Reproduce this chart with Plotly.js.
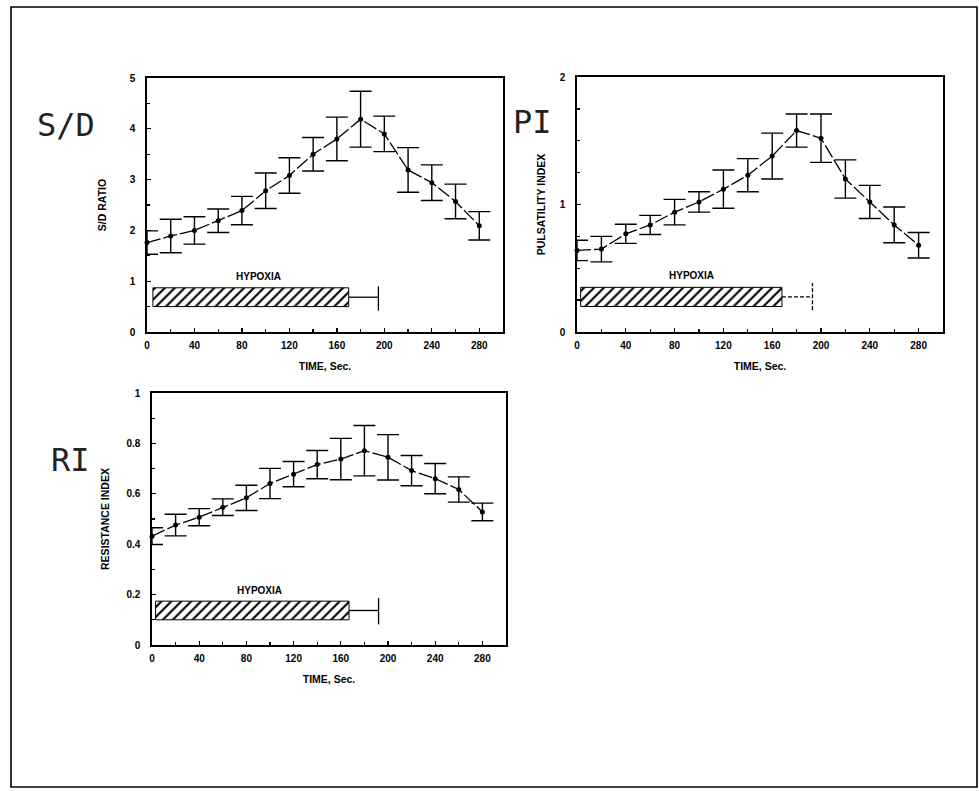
<!DOCTYPE html>
<html>
<head>
<meta charset="utf-8">
<script src="https://cdn.plot.ly/plotly-3.0.1.min.js"></script>
<style>html,body{margin:0;padding:0;background:#fff;}#chart{width:979px;height:791px;}</style>
</head>
<body>
<div id="chart"></div>
<script>
// ---- data ----
const time = [0, 20, 40, 60, 80, 100, 120, 140, 160, 180, 200, 220, 240, 260, 280];
const sdMean = [1.76, 1.89, 2.0, 2.19, 2.39, 2.78, 3.08, 3.5, 3.8, 4.19, 3.9, 3.19, 2.94, 2.57, 2.09];
const sdErr  = [0.23, 0.33, 0.27, 0.23, 0.28, 0.35, 0.35, 0.33, 0.43, 0.55, 0.35, 0.44, 0.35, 0.34, 0.28];
const piMean = [0.64, 0.65, 0.77, 0.84, 0.94, 1.02, 1.12, 1.23, 1.38, 1.58, 1.52, 1.2, 1.02, 0.84, 0.68];
const piErr  = [0.08, 0.10, 0.075, 0.075, 0.10, 0.08, 0.15, 0.13, 0.18, 0.13, 0.19, 0.15, 0.13, 0.14, 0.10];
const riMean = [0.432, 0.476, 0.507, 0.547, 0.584, 0.641, 0.678, 0.716, 0.738, 0.771, 0.745, 0.692, 0.66, 0.617, 0.528];
const riErr  = [0.033, 0.043, 0.034, 0.033, 0.05, 0.06, 0.05, 0.056, 0.082, 0.10, 0.09, 0.06, 0.06, 0.05, 0.035];

const panelNames = ["S/D", "PI", "RI"];
const yTitles = ["S/D RATIO", "PULSATILITY INDEX", "RESISTANCE INDEX"];
const xTitle = "TIME, Sec.";
const hypoxiaText = "HYPOXIA";

// hypoxia period bar + recovery marker, one value per panel
const hypoxiaStart = [5, 3, 3];
const hypoxiaEnd = [170, 168, 167];
const hypoxiaLow = [0.50, 0.20, 0.100];
const hypoxiaHigh = [0.87, 0.35, 0.174];
const recoveryEnd = [195, 193, 192];
const recoveryTickLow = [0.42, 0.17, 0.082];
const recoveryTickHigh = [0.90, 0.385, 0.187];
const hypoxiaLabelX = [94, 94, 91];
const hypoxiaLabelY = [1.09, 0.44, 0.218];

// ---- build ----
const means = [sdMean, piMean, riMean];
const errs = [sdErr, piErr, riErr];
const axSuffix = ["", "2", "3"];
const traces = [];
for (let i = 0; i < 3; i++) {
  const xa = "x" + axSuffix[i], ya = "y" + axSuffix[i];
  traces.push({
    type: "bar", orientation: "h", xaxis: xa, yaxis: ya,
    y: [(hypoxiaLow[i] + hypoxiaHigh[i]) / 2],
    x: [hypoxiaEnd[i] - hypoxiaStart[i]],
    base: [hypoxiaStart[i]],
    width: [hypoxiaHigh[i] - hypoxiaLow[i]],
    marker: { color: "#fff", line: { color: "#000", width: 1 },
      pattern: { shape: "/", fgcolor: "#000", bgcolor: "#fff", size: 7, solidity: 0.3 } },
    hoverinfo: "skip"
  });
  const mid = (hypoxiaLow[i] + hypoxiaHigh[i]) / 2;
  traces.push({
    type: "scatter", mode: "lines", xaxis: xa, yaxis: ya,
    x: [hypoxiaEnd[i], recoveryEnd[i], null, recoveryEnd[i], recoveryEnd[i]],
    y: [mid, mid, null, recoveryTickLow[i], recoveryTickHigh[i]],
    line: { color: "#000", width: 1.3, dash: i === 1 ? "4px,2px" : "solid" },
    cliponaxis: false, hoverinfo: "skip"
  });
  traces.push({
    type: "scatter", mode: "lines+markers", xaxis: xa, yaxis: ya,
    x: time, y: means[i],
    error_y: { type: "data", array: errs[i], visible: true, color: "#000", thickness: 1.4, width: 11 },
    line: { color: "#000", width: 1.3, dash: "14px,3px" },
    marker: { color: "#000", size: 5 },
    cliponaxis: false, name: panelNames[i]
  });
}

const tickFont = { family: "Liberation Sans, Arial, sans-serif", size: 10, color: "#000", weight: "bold" };
const titleFont = { family: "Liberation Sans, Arial, sans-serif", size: 10.5, color: "#000", weight: "bold" };
function xAxis(domain, anchor) {
  return {
    domain: domain, anchor: anchor, range: [0, 300], tickvals: [0, 40, 80, 120, 160, 200, 240, 280],
    ticks: "inside", ticklen: 4, tickwidth: 1.3, tickcolor: "#000",
    minor: { tickvals: [20, 60, 100, 140, 180, 220, 260], ticks: "inside", ticklen: 3, tickcolor: "#000" },
    showline: true, mirror: true, linecolor: "#000", linewidth: 1.6, showgrid: false, zeroline: false,
    tickfont: tickFont, ticklabelstandoff: 3,
    title: { text: xTitle, font: titleFont, standoff: 13 }, fixedrange: true
  };
}
function yAxis(domain, anchor, range, dtick, minorDtick, title, standoff) {
  return {
    domain: domain, anchor: anchor, range: range, dtick: dtick,
    ticks: "inside", ticklen: 4, tickwidth: 1.3, tickcolor: "#000",
    minor: { dtick: minorDtick, ticks: "inside", ticklen: 3, tickcolor: "#000" },
    showline: true, mirror: true, linecolor: "#000", linewidth: 1.6, showgrid: false, zeroline: false,
    tickfont: tickFont, ticklabelstandoff: 8,
    title: { text: title, font: titleFont, standoff: standoff }, fixedrange: true
  };
}

const annotations = [];
for (let i = 0; i < 3; i++) {
  annotations.push({
    xref: "x" + axSuffix[i], yref: "y" + axSuffix[i], x: hypoxiaLabelX[i], y: hypoxiaLabelY[i],
    text: hypoxiaText, showarrow: false, font: { family: "Liberation Sans, Arial, sans-serif", size: 10, color: "#000", weight: "bold" }
  });
}
const labelPos = [[66 / 979, 1 - 125 / 791], [532 / 979, 1 - 122 / 791], [70 / 979, 1 - 460 / 791]];
for (let i = 0; i < 3; i++) {
  annotations.push({
    xref: "paper", yref: "paper", x: labelPos[i][0], y: labelPos[i][1], xanchor: "center", yanchor: "middle",
    text: panelNames[i], showarrow: false,
    font: { family: "DejaVu Sans Mono, monospace", size: 32, color: "#222" }
  });
}

const layout = {
  width: 979, height: 791, margin: { l: 0, r: 0, t: 0, b: 0 },
  paper_bgcolor: "#fff", plot_bgcolor: "#fff", showlegend: false,
  xaxis: xAxis([147 / 979, 503 / 979], "y"),
  yaxis: yAxis([1 - 332 / 791, 1 - 78 / 791], "x", [0, 5], 1, 0.5, yTitles[0], 21),
  xaxis2: xAxis([577 / 979, 943 / 979], "y2"),
  yaxis2: yAxis([1 - 332 / 791, 1 - 77 / 791], "x2", [0, 2], 1, 0.25, yTitles[1], 12),
  xaxis3: xAxis([152 / 979, 506 / 979], "y3"),
  yaxis3: yAxis([1 - 645 / 791, 1 - 393 / 791], "x3", [0, 1], 0.2, 0.1, yTitles[2], 15),
  annotations: annotations,
  shapes: [{ type: "rect", xref: "paper", yref: "paper", x0: 11 / 979, x1: 977 / 979, y0: 1 - 787 / 791, y1: 1 - 7 / 791,
    line: { color: "#000", width: 1.6 } }]
};

Plotly.newPlot("chart", traces, layout, { displayModeBar: false, staticPlot: true });
</script>
</body>
</html>
